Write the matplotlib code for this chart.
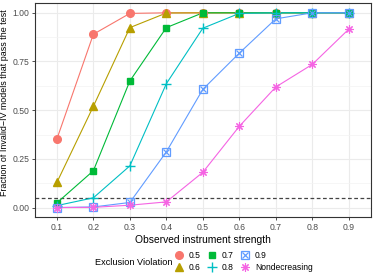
import matplotlib
matplotlib.use("Agg")
import matplotlib.pyplot as plt
from matplotlib.lines import Line2D
from matplotlib import font_manager
import numpy as np

names = {f.name for f in font_manager.fontManager.ttflist}
narrow = "Liberation Sans Narrow" in names
plt.rcParams['font.family'] = ['Liberation Sans Narrow' if narrow else 'Liberation Sans', 'DejaVu Sans']

x = [0.1, 0.2, 0.3, 0.4, 0.5, 0.6, 0.7, 0.8, 0.9]
labels = ["0.5", "0.6", "0.7", "0.8", "0.9", "Nondecreasing"]
v05 = [0.352, 0.89, 0.997, 1.0, 1.0, 1.0, 1.0, 1.0, 1.0]
v06 = [0.129, 0.52, 0.924, 0.999, 1.0, 1.0, 1.0, 1.0, 1.0]
v07 = [0.024, 0.189, 0.65, 0.924, 1.0, 1.0, 1.0, 1.0, 1.0]
v08 = [0.01, 0.05, 0.214, 0.636, 0.921, 0.997, 1.0, 1.0, 1.0]
v09 = [0.0, 0.003, 0.026, 0.286, 0.607, 0.793, 0.969, 1.0, 1.0]
vnd = [0.0, 0.001, 0.012, 0.029, 0.181, 0.417, 0.619, 0.735, 0.916]
series = [v05, v06, v07, v08, v09, vnd]
colors = ["#F8766D", "#B79F00", "#00BA38", "#00BFC4", "#619CFF", "#F564E3"]
threshold = 0.05

k = 1.0 if narrow else 0.82

fig = plt.figure(figsize=(3.74, 2.80), dpi=100)
ax = fig.add_axes([0.0936, 0.224, 0.8974, 0.765])

def make_styles(i, ms=5.5):
    c = colors[i]
    if i == 0:
        return [dict(marker="o", ms=ms, color=c, mec=c)]
    if i == 1:
        return [dict(marker="^", ms=ms + 0.5, color=c, mec=c)]
    if i == 2:
        return [dict(marker="s", ms=ms - 0.5, color=c, mec=c)]
    if i == 3:
        return [dict(marker="+", ms=ms + 1, color=c, mew=1.0)]
    if i == 4:
        return [dict(marker="s", ms=ms - 0.3, mfc="none", mec=c, mew=0.9),
                dict(marker="x", ms=ms - 1.5, color=c, mew=0.9)]
    return [dict(marker=(8, 2, 0), ms=ms + 0.5, color=c, mew=0.8)]

for i, ys in enumerate(series):
    ax.plot(x, ys, color=colors[i], lw=0.8, zorder=3)
    for st in make_styles(i):
        ax.plot(x, ys, ls="none", zorder=4, **st)

ax.axhline(threshold, color="#444444", ls=(0, (3, 2)), lw=0.9, zorder=2)

ax.set_xlim(0.04, 0.96)
ax.set_ylim(-0.05, 1.05)
ax.set_xticks(x)
ax.set_xticklabels([f"{v:.1f}" for v in x])
ax.set_yticks([0, 0.25, 0.5, 0.75, 1.0])
ax.set_yticklabels(["0.00", "0.25", "0.50", "0.75", "1.00"])
ax.set_yticks([0.125, 0.375, 0.625, 0.875], minor=True)
ax.grid(True, which="major", color="#EBEBEB", lw=0.8, zorder=0)
ax.grid(True, which="minor", axis="y", color="#F3F3F3", lw=0.5, zorder=0)
ax.tick_params(which="minor", length=0)
ax.tick_params(which="major", length=2.5, width=0.6, color="#333333",
               labelsize=7.6 * k, labelcolor="#4D4D4D", pad=1.5)
ax.set_axisbelow(True)
for s in ax.spines.values():
    s.set_color("#333333")
    s.set_linewidth(0.8)

ax.set_xlabel("Observed instrument strength", fontsize=9 * k, labelpad=2)
ax.set_ylabel("Fraction of Invalid\u2212IV models that pass the test", fontsize=7.8 * k)
ax.yaxis.set_label_coords(-0.078, 0.535)

handles = []
for i in range(6):
    parts = [Line2D([], [], ls="none", **st) for st in make_styles(i)]
    handles.append(tuple(parts) if len(parts) > 1 else parts[0])

leg = fig.legend(handles, labels, ncol=3, loc="center left",
                 bbox_to_anchor=(0.467, 0.066), frameon=False, fontsize=7.5 * k,
                 handlelength=1.0, handletextpad=0.6, columnspacing=0.9,
                 labelspacing=0.3, borderpad=0, borderaxespad=0)
fig.text(0.254, 0.064, "Exclusion Violation", fontsize=8 * k, va="center", ha="left")

fig.savefig("out.png", dpi=100)
